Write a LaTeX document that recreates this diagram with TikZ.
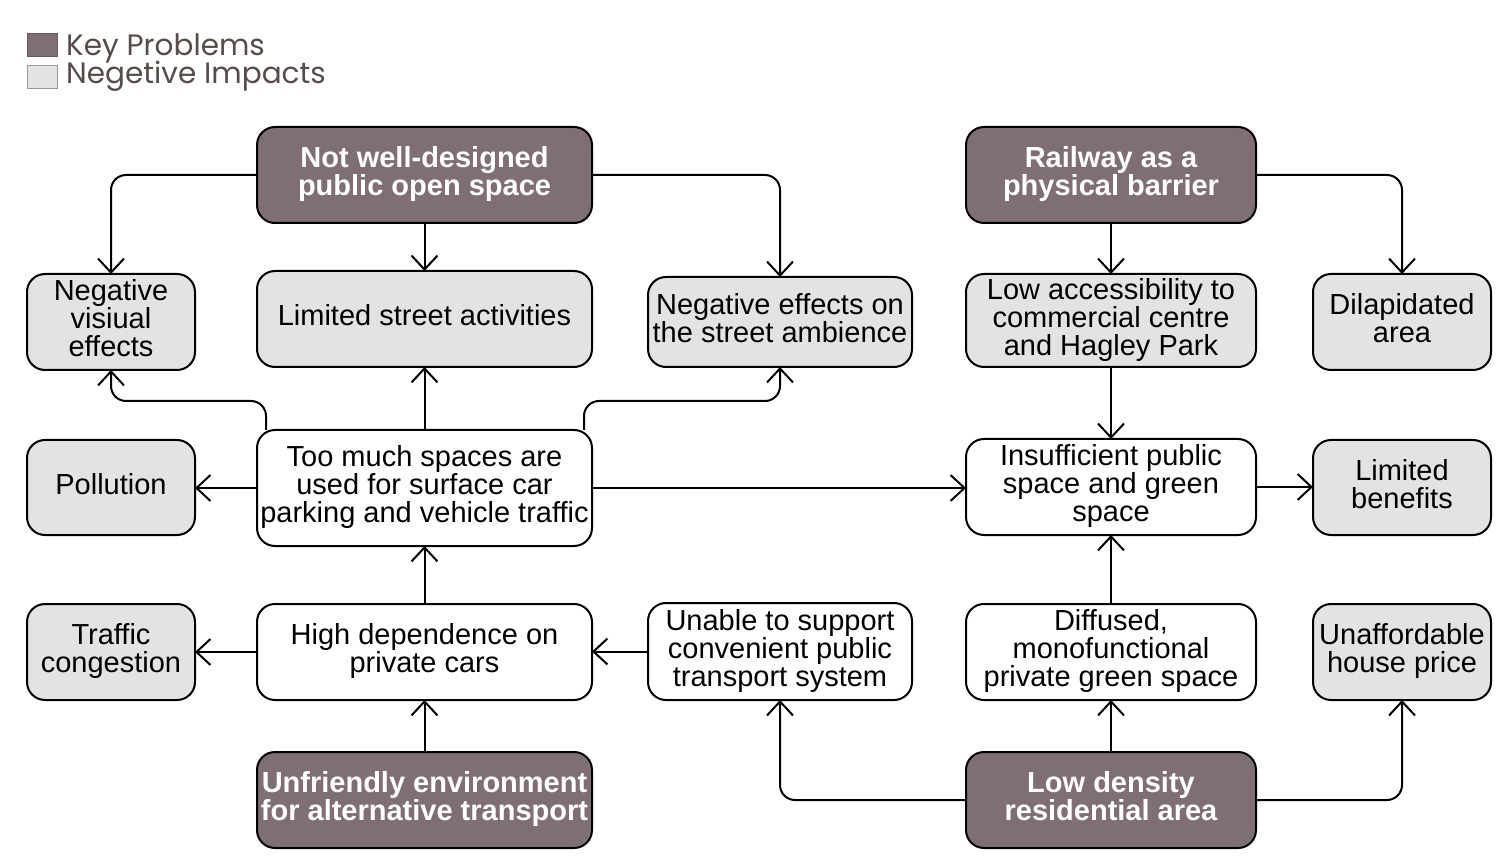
\documentclass[tikz,border=0pt]{standalone}
\usepackage{fontspec}
\setmainfont{Liberation Sans}
\newfontfamily\legendfont{Poppins}
\usetikzlibrary{arrows.meta,calc}
\definecolor{keyfill}{HTML}{806F72}
\definecolor{impfill}{HTML}{E3E3E3}
\definecolor{legtext}{HTML}{564D4B}
% stacked, centred lines, baselines exactly 28pt apart
\newcommand{\rows}[1]{\vbox{\def\\{\cr}\baselineskip=28pt\lineskiplimit=-\maxdimen\lineskip=0pt
  \halign{\hfil##\hfil\cr\vrule height20pt depth8pt width0pt #1\vrule height20pt depth8pt width0pt\crcr}}}
\begin{document}
\begin{tikzpicture}[x=1pt,y=-1pt,
  box/.style={draw=black, line width=2pt, rounded corners=18pt,
    inner sep=0pt, outer sep=0pt, font=\fontsize{29}{28}\selectfont, text=black},
  keybox/.style={box, fill=keyfill, text=white, font=\fontsize{29}{28}\selectfont\bfseries},
  impbox/.style={box, fill=impfill},
  midbox/.style={box, fill=white},
  wide/.style={minimum width=335pt, minimum height=96pt},
  mid/.style={minimum width=290pt, minimum height=96pt},
  narrow/.style={minimum width=168pt, minimum height=96pt},
  link/.style={line width=2pt, rounded corners=15pt, -{Straight Barb[length=14pt,width=26pt]}},
  legbox/.style={minimum width=30pt, minimum height=23pt, inner sep=0pt, line width=1pt},
  legtxt/.style={anchor=base west, inner sep=0pt, text=legtext,
    font=\legendfont\fontsize{29.5}{30}\selectfont}]

\useasboundingbox (0,0) rectangle (1505,858);

% legend
\node[legbox, draw=keyfill!80!black, fill=keyfill] (lk) at (42,45.5) {};
\node[legbox, draw=black!40, fill=impfill] (li) at (42,77.5) {};
\node[legtxt, text depth=0pt] (lkt) at (66,56) {Key Problems};
\node[legtxt] (lit) at (66,83.5) {Negetive Impacts};

% key problems
\node[keybox, wide] (nwd) at (424.5,175) {\rows{Not well-designed\\public open space}};
\node[keybox, mid] (rail) at (1111,175) {\rows{Railway as a\\physical barrier}};
\node[keybox, wide] (unfr) at (424.5,800) {\rows{Unfriendly environment\\for alternative transport}};
\node[keybox, mid] (lowd) at (1111,800) {\rows{Low density\\residential area}};

% negative impacts
\node[impbox, narrow] (nvis) at (111,322) {\rows{Negative\\visiual\\effects}};
\node[impbox, wide] (lsa) at (424.5,319) {\rows{Limited street activities}};
\node[impbox, minimum width=264pt, minimum height=90pt] (nea) at (780,322) {\rows{Negative effects on\\the street ambience}};
\node[impbox, mid, minimum height=93pt] (lacc) at (1111,320.5) {\rows{Low accessibility to\\commercial centre\\and Hagley Park}};
\node[impbox, minimum width=178pt, minimum height=96pt] (dil) at (1402,322) {\rows{Dilapidated\\area}};
\node[impbox, narrow, minimum height=95pt] (poll) at (111,487.5) {\rows{Pollution}};
\node[impbox, minimum width=178pt, minimum height=95pt] (lben) at (1402,487.5) {\rows{Limited\\benefits}};
\node[impbox, narrow] (traf) at (111,652) {\rows{Traffic\\congestion}};
\node[impbox, minimum width=178pt, minimum height=96pt] (unaf) at (1402,652) {\rows{Unaffordable\\house price}};

% intermediate causes
\node[midbox, minimum width=335pt, minimum height=116pt] (tm) at (424.5,488) {\rows{Too much spaces are\\used for surface car\\parking and vehicle traffic}};
\node[midbox, mid] (insuf) at (1111,487) {\rows{Insufficient public\\space and green\\space}};
\node[midbox, wide] (hdep) at (424.5,652) {\rows{High dependence on\\private cars}};
\node[midbox, minimum width=264pt, minimum height=97pt] (unab) at (780,651.5) {\rows{Unable to support\\convenient public\\transport system}};
\node[midbox, mid] (diff) at (1111,652) {\rows{Diffused,\\monofunctional\\private green space}};

% connectors from the key problems
\draw[link] (nwd.west) -| (nvis.north);
\draw[link] (nwd.south) -- (lsa.north);
\draw[link] (nwd.east) -| (nea.north);
\draw[link] (rail.south) -- (lacc.north);
\draw[link] (rail.east) -| (dil.north);
\draw[link] (unfr.north) -- (hdep.south);
\draw[link] (lowd.north) -- (diff.south);
\draw[link] (lowd.west) -| (unab.south);
\draw[link] (lowd.east) -| (unaf.south);

% connectors between causes and impacts
\draw[link] (lacc.south) -- (insuf.north);
\draw[link] (diff.north) -- (insuf.south);
\draw[link] (insuf.east) -- (insuf.east -| lben.west);
\draw[link] (hdep.north) -- (tm.south);
\draw[link] (hdep.west) -- (traf.east);
\draw[link] (unab.west) -- (unab.west -| hdep.east);
\draw[link] (tm.north) -- (lsa.south);
\draw[link] (tm.west) -- (tm.west -| poll.east);
\draw[link] (tm.east) -- (tm.east -| insuf.west);
\draw[link] ($(tm.north west)+(9,0)$) |- ($(nvis.south)+(0,31)$) -- (nvis.south);
\draw[link] ($(tm.north east)+(-8,0)$) |- ($(nea.south)+(0,34)$) -- (nea.south);
\end{tikzpicture}
\end{document}
